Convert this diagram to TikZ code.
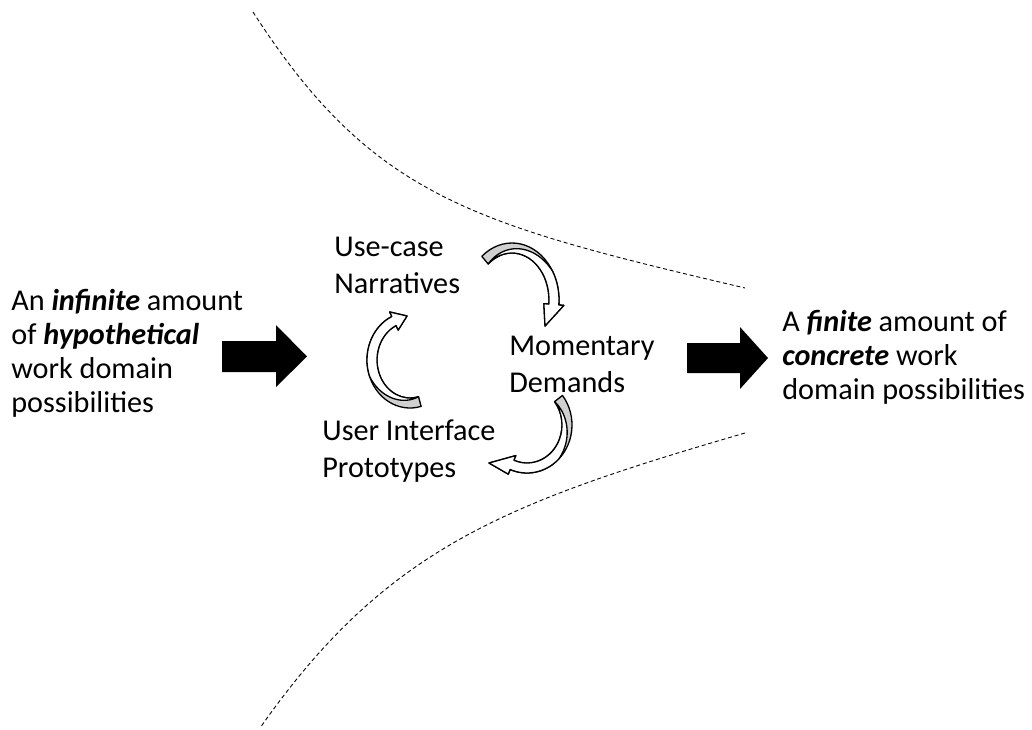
\documentclass[tikz,border=0pt]{standalone}
\usepackage{fontspec}
\setmainfont{Carlito}
\usepackage{tikz}
\usetikzlibrary{positioning,calc}

\definecolor{ribbongray}{RGB}{208,208,208}

% centre x, centre y, x radius, y radius, tail angle, twist angle, head angle, tip
\newcommand{\cyclearrow}[8]{%
  \filldraw[ribbon, fill=ribbongray]
    ({#1+(#3+5)*cos(#5)},{#2+(#4+5)*sin(#5)})
      arc[start angle=#5, end angle=#7, x radius=#3+5, y radius=#4+5]
    -- ({#1+(#3+10)*cos(#7)},{#2+(#4+10)*sin(#7)}) -- #8
    -- ({#1+(#3-10)*cos(#7)},{#2+(#4-10)*sin(#7)})
    -- ({#1+(#3-5)*cos(#7)},{#2+(#4-5)*sin(#7)})
      arc[start angle=#7, end angle=#5, x radius=#3-5, y radius=#4-5] -- cycle;
  \filldraw[ribbon, fill=white]
    plot[domain=#5:#6, samples=30]
      ({#1+(#3-5+10*(\x-(#5))/((#6)-(#5)))*cos(\x)},{#2+(#4-5+10*(\x-(#5))/((#6)-(#5)))*sin(\x)})
      arc[start angle=#6, end angle=#7, x radius=#3+5, y radius=#4+5]
    -- ({#1+(#3+10)*cos(#7)},{#2+(#4+10)*sin(#7)}) -- #8
    -- ({#1+(#3-10)*cos(#7)},{#2+(#4-10)*sin(#7)})
    -- ({#1+(#3-5)*cos(#7)},{#2+(#4-5)*sin(#7)})
      arc[start angle=#7, end angle=#5, x radius=#3-5, y radius=#4-5] -- cycle;
}

\begin{document}
\begin{tikzpicture}[
    x=0.02cm, y=-0.02cm,
    txt/.style={anchor=base west, align=left, inner sep=0pt},
    bigarrow/.style={fill=black},
    ribbon/.style={line width=0.75pt, line join=round},
    border/.style={line width=0.5pt, dash pattern=on 2.3pt off 1.6pt}
]
    \useasboundingbox (0,0) rectangle (1032,730);

    % Funnel
    \draw[border] (253,12) .. controls (372,197) and (472,224) .. (745,288);
    \draw[border] (745,433) .. controls (505,503) and (386,548) .. (260,728);

    % Outer texts (base = last line)
    \node[txt, font=\fontsize{17.2}{19.3}\selectfont] (infinite) at (11,412)
        {An \textbf{\textit{infinite}} amount\\of \textbf{\textit{hypothetical}}\\work domain\\possibilities};
    \node[txt, font=\fontsize{17.2}{19.3}\selectfont] (finite) at (782,399)
        {A \textbf{\textit{finite}} amount of\\\textbf{\textit{concrete}} work\\domain possibilities};

    % Big arrows
    \fill[bigarrow] (222,341) -- (276,341) -- (276,325) -- (307,356.5) -- (276,387)
        -- (276,372) -- (222,372) -- cycle;
    \fill[bigarrow] (687,343) -- (740,343) -- (740,327) -- (768,358) -- (740,389)
        -- (740,373) -- (687,373) -- cycle;

    % Cycle
    \node[txt, font=\fontsize{17.2}{20.9}\selectfont] (usecase) at (334,293.5) {Use-case\\Narratives};
    \node[txt, font=\fontsize{17.2}{20.9}\selectfont] (momentary) at (509,392) {Momentary\\Demands};
    \node[txt, font=\fontsize{17.2}{20.9}\selectfont] (prototypes) at (322,477) {User Interface\\Prototypes};

    \cyclearrow{512}{300}{42}{52}{230}{330}{365}{(545,326)}
    \cyclearrow{527}{425}{40}{43}{-38}{45}{112}{(489,463)}
    \cyclearrow{410}{360}{38}{43}{75}{160}{245}{(407,316)}
\end{tikzpicture}
\end{document}
